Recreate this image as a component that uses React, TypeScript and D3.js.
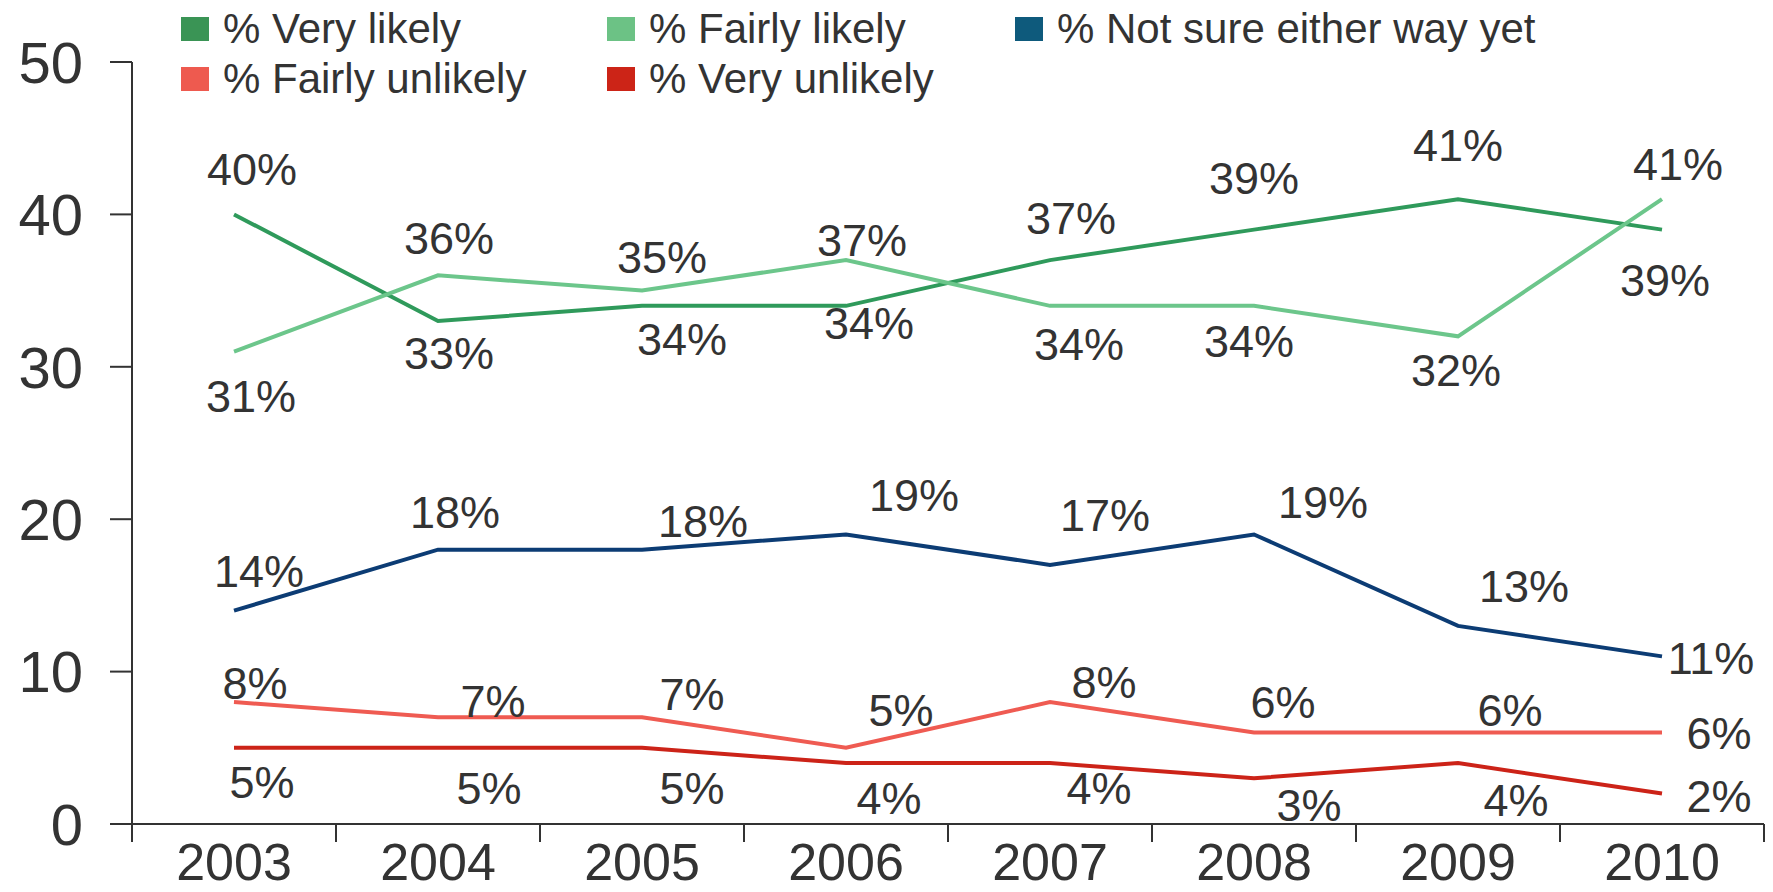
import React from "react";
import * as d3 from "d3";

const years = ["2003", "2004", "2005", "2006", "2007", "2008", "2009", "2010"];
const veryLikely = [40, 33, 34, 34, 37, 39, 41, 39];
const fairlyLikely = [31, 36, 35, 37, 34, 34, 32, 41];
const notSure = [14, 18, 18, 19, 17, 19, 13, 11];
const fairlyUnlikely = [8, 7, 7, 5, 8, 6, 6, 6];
const veryUnlikely = [5, 5, 5, 4, 4, 3, 4, 2];
const yTicks = [0, 10, 20, 30, 40, 50];

// label placement (layout only)
const offVL = [[18, -46], [11, 32], [40, 33], [23, 17], [21, -42], [0, -52], [0, -54], [3, 50]];
const offFL = [[17, 44], [11, -38], [20, -34], [16, -20], [29, 38], [-5, 35], [-2, 33], [16, -35]];
const offNS = [[25, -40], [17, -38], [61, -29], [68, -40], [55, -50], [69, -33], [66, -40], [49, 1]];
const offFU = [[21, -19], [55, -17], [50, -24], [55, -38], [54, -20], [29, -31], [52, -23], [57, 0]];
const offVU = [[28, 34], [51, 40], [50, 40], [43, 35], [49, 25], [55, 27], [58, 37], [57, 2]];

const series = [
  { name: "% Very likely", values: veryLikely, color: "#2f9a5b", legend: "#3a9455", off: offVL },
  { name: "% Fairly likely", values: fairlyLikely, color: "#6cc68b", legend: "#6cc285", off: offFL },
  { name: "% Not sure either way yet", values: notSure, color: "#0c3c74", legend: "#0e5a7c", off: offNS },
  { name: "% Fairly unlikely", values: fairlyUnlikely, color: "#ef5b52", legend: "#ee5a4f", off: offFU },
  { name: "% Very unlikely", values: veryUnlikely, color: "#cc2318", legend: "#cc2417", off: offVU },
];

const legendPos = [
  [181, 17], [607, 17], [1015, 17],
  [181, 67], [607, 67],
];

const W = 1773;
const H = 892;
const FONT = "'Liberation Sans', Arial, Helvetica, sans-serif";
const TXT = "#333333";

export default function App() {
  const x = d3.scaleBand().domain(years).range([132, 1764]);
  const y = d3.scaleLinear().domain([0, 50]).range([824, 62]);
  const cx = (yr: string) => (x(yr) as number) + x.bandwidth() / 2;
  const line = d3
    .line<number>()
    .x((_, i) => cx(years[i]))
    .y((v) => y(v));

  return (
    <svg
      width={W}
      height={H}
      style={{ position: "absolute", left: 0, top: 0, background: "#fff" }}
      fontFamily={FONT}
    >
      {/* legend */}
      {series.map((s, i) => (
        <g key={s.name} transform={`translate(${legendPos[i][0]},${legendPos[i][1]})`}>
          <rect x={0} y={0} width={28} height={24} fill={s.legend} />
          <text x={42} y={26} fontSize={42} fill={TXT}>
            {s.name}
          </text>
        </g>
      ))}

      {/* axes */}
      <g stroke={TXT} strokeWidth={2} fill="none">
        <line x1={132} x2={132} y1={y(50)} y2={842} />
        <line x1={110} x2={1764} y1={y(0)} y2={y(0)} />
        {yTicks.map((t) => (
          <line key={t} x1={110} x2={132} y1={y(t)} y2={y(t)} />
        ))}
        {[...years.map((yr) => x(yr) as number), 1764].map((px, i) => (
          <line key={i} x1={px} x2={px} y1={y(0)} y2={842} />
        ))}
      </g>
      {yTicks.map((t) => (
        <text
          key={t}
          x={83}
          y={y(t)}
          dy="0.36em"
          textAnchor="end"
          fontSize={58}
          fill={TXT}
        >
          {t}
        </text>
      ))}
      {years.map((yr) => (
        <text
          key={yr}
          x={cx(yr)}
          y={880}
          textAnchor="middle"
          fontSize={52}
          fill={TXT}
        >
          {yr}
        </text>
      ))}

      {/* lines */}
      {series.map((s) => (
        <path
          key={s.name}
          d={line(s.values) as string}
          fill="none"
          stroke={s.color}
          strokeWidth={4}
          strokeLinejoin="miter"
        />
      ))}

      {/* data labels */}
      {series.map((s) =>
        s.values.map((v, i) => (
          <text
            key={s.name + i}
            x={cx(years[i]) + s.off[i][0]}
            y={y(v) + s.off[i][1]}
            dy="0.36em"
            textAnchor="middle"
            fontSize={45}
            fill={TXT}
          >
            {v}%
          </text>
        ))
      )}
    </svg>
  );
}
